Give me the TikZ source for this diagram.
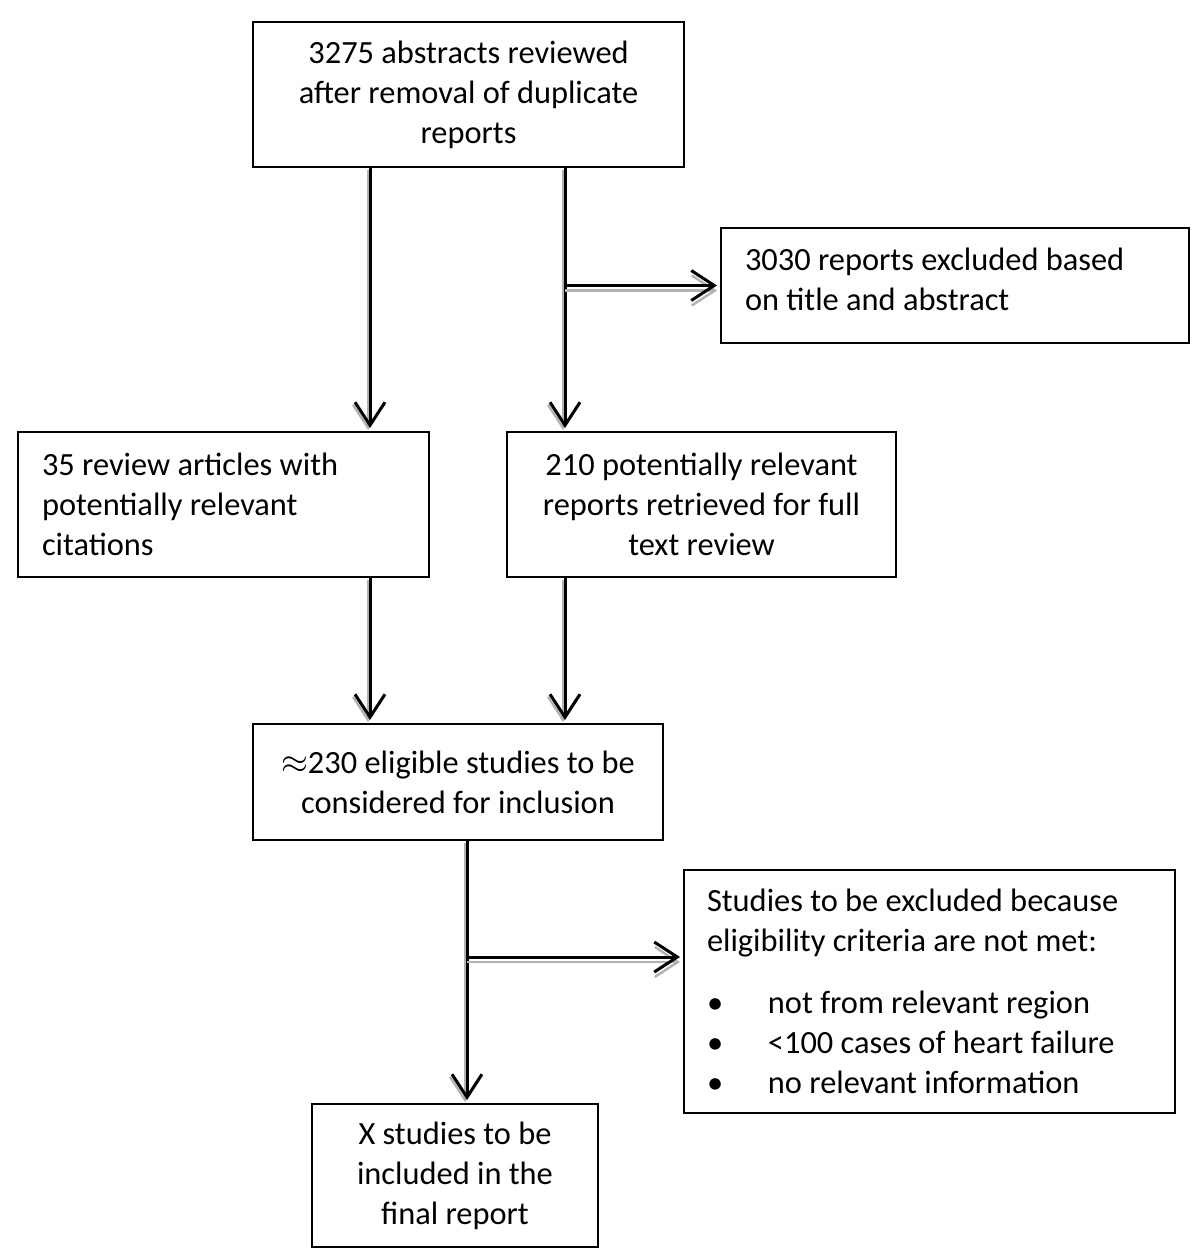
\documentclass[tikz,border=0pt]{standalone}
\usepackage{fontspec}
\setmainfont{Carlito}
\usetikzlibrary{arrows.meta}
\begin{document}
\begin{tikzpicture}[x=0.5pt,y=-0.5pt,
  box/.style={draw, line width=1pt, inner sep=0pt, font=\fontsize{16.2}{20}\selectfont},
  arr/.style={line width=1.5pt, -{Straight Barb[length=11.5pt,width=15pt]}, shorten >=1.5pt},
  harr/.style={arr, preaction={draw=black!30, line width=1.2pt, transform canvas={yshift=-2.5pt}}},
  varr/.style={arr, preaction={draw=black!30, line width=1.2pt, transform canvas={xshift=-1pt,yshift=-1pt}}}]
\path[fill=white, use as bounding box] (0,0) rectangle (1200,1257);

\node[box, minimum width=215.5pt, minimum height=72.5pt, align=center] (A) at (468.5,94.5)
  {3275 abstracts reviewed\\after removal of duplicate\\reports};
\node[box, minimum width=234pt, minimum height=57.5pt, text width=210pt, align=flush left] (B) at (955,285.5)
  {3030 reports excluded based\\on title and abstract\\[-13.5pt]~};
\node[box, minimum width=205.5pt, minimum height=72.5pt, text width=181.5pt, align=flush left] (C) at (223.5,504.5)
  {35 review articles with\\potentially relevant\\citations};
\node[box, minimum width=194.5pt, minimum height=72.5pt, align=center] (D) at (701.5,504.5)
  {210 potentially relevant\\reports retrieved for full\\text review};
\node[box, minimum width=205pt, minimum height=58pt, align=center] (E) at (458,782)
  {$\approx$230 eligible studies to be\\considered for inclusion};
\node[box, minimum width=245.5pt, minimum height=121.5pt, text width=222.5pt, align=flush left] (F) at (929.5,991.5)
  {Studies to be excluded because\\eligibility criteria are not met:\\[11pt]
   \makebox[30.5pt][l]{•}not from relevant region\\
   \makebox[30.5pt][l]{•}<100 cases of heart failure\\
   \makebox[30.5pt][l]{•}no relevant information};
\node[box, minimum width=143pt, minimum height=71.5pt, align=center] (G) at (455,1175.5)
  {X studies to be\\included in the\\final report};

\coordinate (xL) at (370,0);
\coordinate (xR) at (565,0);
\coordinate (xE) at (467,0);
\coordinate (b1) at (565,285.5);
\coordinate (b2) at (467,957);

\draw[varr] (A.south -| xL) -- (C.north -| xL);
\draw[varr] (A.south -| xR) -- (D.north -| xR);
\draw[harr] (b1) -- (b1 -| B.west);
\draw[varr] (C.south -| xL) -- (E.north -| xL);
\draw[varr] (D.south -| xR) -- (E.north -| xR);
\draw[varr] (E.south -| xE) -- (G.north -| xE);
\draw[harr] (b2) -- (b2 -| F.west);
\end{tikzpicture}
\end{document}
